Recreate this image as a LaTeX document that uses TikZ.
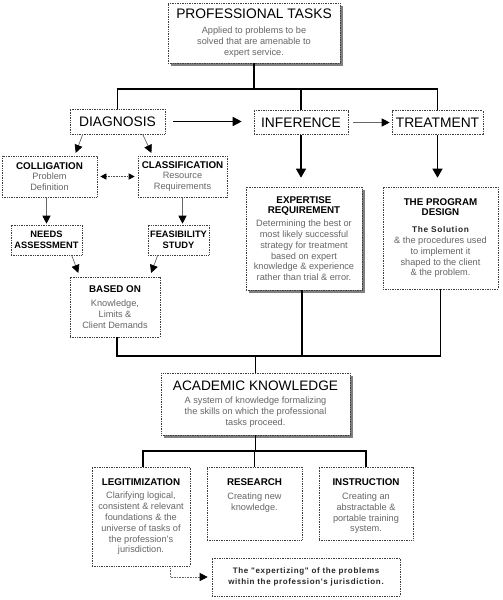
\documentclass[tikz,border=0pt]{standalone}
\usepackage{fontspec}
\setmainfont{Liberation Sans}
\newfontfamily\spsans[LetterSpace=8]{Liberation Sans}
\usetikzlibrary{arrows.meta,shadows}
\newcommand\bigf{\fontsize{13.8}{16}\selectfont}
\newcommand\midf{\fontsize{9.8}{12.5}\selectfont\bfseries}
\newcommand\bodyf{\fontsize{9.2}{10.8}\selectfont}
\newcommand\ttl[1]{{\color{black}\midf #1}}
\begin{document}
\begin{tikzpicture}[x=1pt,y=-1pt,
  box/.style={draw=black!75, dash pattern=on 1pt off 0.7pt, line width=0.6pt,
    fill=white, inner sep=0pt, align=center, font=\bodyf, text=black!60},
  shad/.style={drop shadow={shadow xshift=3pt,shadow yshift=-3pt,fill=black!50,opacity=1}},
  txt/.style={inner sep=0pt, align=center, font=\bodyf, text=black!60},
  tree/.style={line width=1.5pt, black},
  bigarrow/.style={line width=1.5pt, black, -{Triangle[length=9pt,width=9pt]}},
  downarrow/.style={line width=1.3pt, black, -{Triangle[length=9pt,width=10pt]}},
  thinarrow/.style={line width=0.7pt, black!60, -{Triangle[length=8pt,width=8pt,color=black]}},
  dblarrow/.style={line width=0.6pt, black!70, densely dotted, {Triangle[length=6pt,width=6pt,color=black]}-{Triangle[length=6pt,width=6pt,color=black]}},
  dotarrow/.style={line width=0.6pt, black!60, densely dotted, -{Triangle[length=8pt,width=8pt,color=black]}}
]
\useasboundingbox (0,0) rectangle (503,600);

% top
\node[box, shad, minimum width=172pt, minimum height=60pt] (prof) at (254,33)
  {{\color{black}\bigf PROFESSIONAL TASKS}\\[5pt]
   Applied to problems to be\\ solved that are amenable to\\ expert service.};

\node[box, minimum width=95pt, minimum height=25pt, text=black] (diag) at (117.5,121.5) {\bigf DIAGNOSIS};
\node[box, minimum width=94pt, minimum height=24pt, text=black] (infer) at (301,122.5) {\bigf INFERENCE};
\node[box, minimum width=91pt, minimum height=24pt, text=black] (treat) at (437.5,122.5) {\bigf TREATMENT};

\node[box, minimum width=95pt, minimum height=41pt] (colli) at (49.5,176.5)
  {\ttl{COLLIGATION}\\ Problem\\ Definition};
\node[box, minimum width=89pt, minimum height=41pt] (class) at (182.5,176.5)
  {\ttl{CLASSIFICATION}\\ Resource\\ Requirements};

\node[box, minimum width=71pt, minimum height=30pt, text=black, font=\fontsize{9.3}{11}\selectfont\bfseries] (needs) at (46.5,240)
  {NEEDS\\ ASSESSMENT};
\node[box, minimum width=61pt, minimum height=30pt, text=black, font=\fontsize{9.3}{11}\selectfont\bfseries] (feas) at (178.5,240)
  {FEASIBILITY\\ STUDY};

\node[box, minimum width=90pt, minimum height=60pt] (based) at (115,307)
  {\ttl{BASED ON}\\[3pt] Knowledge,\\ Limits \&\\ Client Demands};

\node[box, shad, minimum width=116pt, minimum height=103pt] (expert) at (304,238.5)
  {\ttl{EXPERTISE}\\ \ttl{REQUIREMENT}\\[2pt]
   Determining the best or\\ most likely successful\\ strategy for treatment\\
   based on expert\\ knowledge \& experience\\ rather than trial \& error.};
\node[box, minimum width=115pt, minimum height=102pt] (prog) at (440.5,238)
  {\ttl{THE PROGRAM}\\ \ttl{DESIGN}\\[6pt]
   {\color{black!85}\fontsize{8.3}{10}\selectfont\spsans\bfseries The Solution}\\
   \& the procedures used\\ to implement it\\ shaped to the client\\ \& the problem.};

% academic
\node[box, shad, minimum width=189pt, minimum height=62pt] (acad) at (255.5,404)
  {{\color{black}\fontsize{13.7}{16}\selectfont ACADEMIC KNOWLEDGE}\\[3pt]
   A system of knowledge formalizing\\ the skills on which the professional\\ tasks proceed.};

\node[box, minimum width=98pt, minimum height=99pt] (legit) at (141,516.5)
  {\ttl{LEGITIMIZATION}\\[3pt]
   Clarifying logical,\\ consistent \& relevant\\ foundations \& the\\ universe of tasks of\\
   the profession's\\ jurisdiction.};
\node[box, minimum width=95pt, minimum height=73pt] (research) at (254.5,503.5) {};
\node[txt, anchor=north] (researchT) at ([yshift=-12pt]research.north)
  {\ttl{RESEARCH}\\[3pt] Creating new\\ knowledge.};
\node[box, minimum width=94pt, minimum height=73pt] (instr) at (366,503.5) {};
\node[txt, anchor=north] (instrT) at ([yshift=-12pt]instr.north)
  {\ttl{INSTRUCTION}\\[3pt] Creating an\\ abstractable \&\\ portable training\\ system.};

\node[box, minimum width=188pt, minimum height=38pt, text=black!85, font=\fontsize{8}{10.5}\selectfont\spsans\bfseries] (expz) at (306,577)
  {The "expertizing" of the problems\\ within the profession's jurisdiction.};

% connectors top
\coordinate (j1) at (254,89);
\draw[tree] (prof.south) -- (j1);
\draw[tree] (diag.north) |- (j1) -| (treat.north);
\draw[tree] (infer.north) -- (infer.north |- j1);

\draw[bigarrow] ([xshift=8pt]diag.east) -- ([xshift=-12pt]diag.east -| infer.west);
\draw[thinarrow] ([xshift=5pt]infer.east) -- ([xshift=-2pt]infer.east -| treat.west);
\draw[downarrow, shorten >=9pt] (infer.south) -- (infer.south |- expert.north);
\draw[downarrow, shorten >=9pt] (treat.south) -- (treat.south |- prog.north);

\draw[thinarrow, shorten >=3pt] ([xshift=13pt]diag.south west) -- ([xshift=73pt]colli.north west);
\draw[thinarrow, shorten >=3pt] ([xshift=73pt]diag.south west) -- ([xshift=15pt]class.north west);
\draw[dblarrow, shorten <=3pt, shorten >=3pt] (colli.east) -- (colli.east -| class.west);
\draw[thinarrow, shorten >=1pt] (colli.south -| needs.north) -- (needs.north);
\draw[thinarrow, shorten >=1pt] (class.south) -- (class.south |- feas.north);
\draw[thinarrow, shorten >=4pt] ([xshift=61pt]needs.south west) -- ([xshift=10pt]based.north west);
\draw[thinarrow, shorten >=4pt] ([xshift=10pt]feas.south west) -- ([xshift=80pt]based.north west);

% middle
\coordinate (j2) at (255.5,356);
\draw[tree] ([xshift=2pt]based.south) |- (j2) -| (prog.south);
\draw[tree] ([xshift=-2pt]expert.south) -- ([xshift=-2pt]expert.south |- j2);
\draw[tree] (j2) -- (acad.north);

% bottom
\coordinate (j3) at (255.5,451);
\draw[tree] (acad.south) -- (j3);
\draw[tree] ([xshift=2pt]legit.north) |- (j3) -| (instr.north);
\draw[tree] (research.north) -- (research.north |- j3);

\draw[dotarrow, shorten >=4pt] ([xshift=29pt]legit.south) |- (expz.west);
\end{tikzpicture}
\end{document}
